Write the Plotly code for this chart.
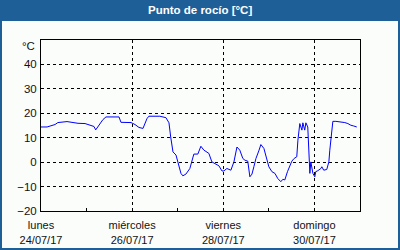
import pandas as pd
import plotly.graph_objects as go

# ---- data ----
start = "2017-07-24 00:00"
hours = [0, 3.2, 7.4, 8.9, 13.7, 19.5, 23.2, 26.8, 27.9, 28.8, 30.5, 32.6, 34.2, 41.1, 42.1,
         47.4, 49.5, 51.6, 53.7, 55.8, 56.8, 62.6, 65.8, 67.4, 68.3, 69.5, 71.1, 72.1, 73.7,
         74.7, 76.3, 78.4, 79.5, 80.5, 82.6, 84.2, 85.8, 88.4, 90.0, 91.6, 93.7, 95.3, 96.3,
         97.9, 100.0, 101.6, 103.2, 104.7, 106.3, 107.4, 108.9, 110.0, 111.1, 112.1, 113.2,
         114.7, 115.8, 117.4, 118.9, 120.0, 121.6, 123.2, 124.7, 126.3, 127.4, 128.4, 129.8,
         131.1, 132.1, 133.3, 134.7, 135.3, 136.3, 137.4, 137.9, 138.9, 139.5, 140.5, 141.1,
         141.6, 142.1, 142.6, 143.2, 144.2, 144.7, 145.8, 147.4, 147.9, 148.9, 150.5, 151.6,
         152.1, 152.6, 153.2, 153.7, 155.3, 158.4, 160.0, 161.6, 163.2, 164.7, 166.3]
dew = [14.4, 14.4, 15.4, 16.2, 16.6, 15.9, 15.8, 15.1, 14.6, 13.2, 15.1, 17.4, 18.5, 18.5, 16.3,
       16.2, 15.4, 14.2, 13.8, 17.8, 18.8, 18.8, 18.2, 16.1, 10.3, 4.2, 2.9, 0.1, -4.6,
       -5.6, -4.9, -2.6, 0.8, 3.3, 3.3, 6.5, 4.9, 3.6, 0.1, -0.5, -1.5, -3.6, -3.6,
       -2.6, -3.3, 0.1, 6.2, 4.9, 1.5, 0.8, 0.4, -6.0, -4.9, -1.9, 1.5,
       4.6, 7.2, 5.6, 0.8, -1.9, -3.9, -4.6, -6.7, -8.0, -7.0, -7.3, -3.9,
       -1.2, 0.4, 1.5, 2.2, 9.0, 15.8, 13.1, 16.1, 13.1, 16.1, 14.4, 0.1,
       -4.6, 0.1, -1.9, -4.6, -6.0, -3.9, -3.5, -2.6, -1.9, -3.3, -3.0, 0.1,
       4.9, 9.0, 12.4, 16.7, 16.7, 16.5, 16.2, 15.8, 15.1, 14.8, 14.4]
tick_dates = ["2017-07-24", "2017-07-26", "2017-07-28", "2017-07-30"]
tick_labels = ["lunes<br>24/07/17", "miércoles<br>26/07/17", "viernes<br>28/07/17", "domingo<br>30/07/17"]
y_ticks = [-20, -10, 0, 10, 20, 30, 40]
title_text = "Punto de rocío [°C]"
unit_text = "°C"

times = pd.Timestamp(start) + pd.to_timedelta(hours, unit="h")

# ---- layout geometry (pixels) ----
W, H = 400, 250
L, R, T, B = 41, 360, 40, 211
def px(x):
    return (x - L) / (R - L)
def py(y):
    return (B - y) / (B - T)

BLUE = "#1F5F98"
FONT = "Liberation Sans"

fig = go.Figure()
fig.add_trace(go.Scatter(x=times, y=dew, mode="lines",
                         line=dict(color="#0000FF", width=1), hoverinfo="skip"))

fig.update_layout(
    width=W, height=H, autosize=False,
    margin=dict(l=L, r=W - R, t=T, b=H - B, pad=0, autoexpand=False),
    paper_bgcolor=BLUE, plot_bgcolor="white",
    showlegend=False,
    font=dict(family=FONT, size=11, color="#111111"),
    xaxis=dict(
        type="date", range=["2017-07-24", "2017-07-31"], automargin=False,
        tickvals=tick_dates, ticktext=tick_labels, ticklabelstandoff=4,
        showgrid=True, gridcolor="black", gridwidth=1, griddash="3px,3px",
        ticks="inside", ticklen=3, tickcolor="black",
        minor=dict(dtick=86400000, ticks="inside", ticklen=3, tickcolor="black", showgrid=False),
        showline=True, linecolor="black", linewidth=1, mirror=True,
        zeroline=False, tickfont=dict(family=FONT, size=11, color="#111111"),
    ),
    yaxis=dict(
        range=[-20, 50], tickvals=y_ticks, automargin=False, ticklabelstandoff=1,
        showgrid=True, gridcolor="black", gridwidth=1, griddash="3px,3px",
        ticks="", showline=True, linecolor="black", linewidth=1, mirror=True,
        zeroline=False, tickfont=dict(family=FONT, size=11.5, color="#111111"),
    ),
    shapes=[
        dict(type="rect", xref="paper", yref="paper", layer="below",
             x0=px(2), x1=px(398), y0=py(248), y1=py(21),
             fillcolor="#FBFDFB", line=dict(width=0)),
    ],
    annotations=[
        dict(text="<b>" + title_text + "</b>", xref="paper", yref="paper",
             x=px(200), y=py(10.5), xanchor="center", yanchor="middle", showarrow=False,
             font=dict(family=FONT, size=11.5, color="white")),
        dict(text=unit_text, xref="paper", yref="paper",
             x=px(37), y=py(46), xanchor="right", yanchor="middle", showarrow=False,
             font=dict(family=FONT, size=11.5, color="#111111")),
    ],
)

fig.write_html("out.html")
